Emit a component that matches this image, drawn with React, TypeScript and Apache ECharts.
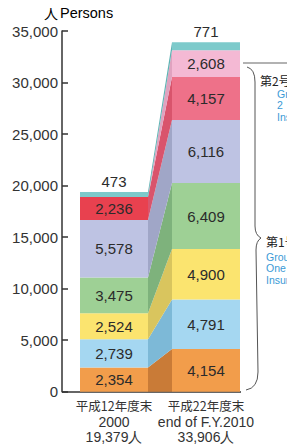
import React, { useEffect, useRef } from "react";
import * as echarts from "echarts";

const categories = ["平成12年度末\n2000\n19,379人", "平成22年度末\nend of F.Y.2010\n33,906人"];
const orangeValues = [2354, 4154];
const blueValues = [2739, 4791];
const yellowValues = [2524, 4900];
const greenValues = [3475, 6409];
const lavenderValues = [5578, 6116];
const redValues = [2236, 4157];
const pinkValues = [0, 2608];
const tealValues = [473, 771];
const yTicks = { min: 0, max: 35000, interval: 5000 };

const stackValues = [orangeValues, blueValues, yellowValues, greenValues, lavenderValues, redValues, pinkValues, tealValues];
const barColors = ["#F29D4B", "#A5D7F1", "#FBE46F", "#9ED095", "#BEC3E3", "#EE7189", "#F4B9D4", "#7DCACB"];
const red2000Color = "#E8414F";
const connectorColors = ["#C97B37", "#7DB9D7", "#D9C55E", "#7EB27C", "#A0A6C7", "#D9546C", "#E0A2BF", "#5FB3B4"];

const BAR_W = 68;
const FONT = "'Liberation Sans', Arial, sans-serif";
const CJK = "'Noto Sans CJK JP', 'Liberation Sans', sans-serif";

const bracePath =
  "M247 67 Q255 69 255 82 L255 226 Q255 235 261 238 Q256 241 256 250 L258 372 Q258 388 246 390";
echarts.graphic.registerShape("brace", echarts.graphic.extendPath(bracePath, {}) as any);

const fmt = (v: number) => v.toLocaleString("en-US");

export default function App() {
  const ref = useRef<HTMLDivElement>(null);
  useEffect(() => {
    if (!ref.current) return;
    const chart = echarts.init(ref.current, undefined, { renderer: "svg" });

    const barSeries = stackValues.map((vals, si) => ({
      type: "bar",
      stack: "total",
      barWidth: BAR_W,
      data: vals.map((v, ci) => ({
        value: v,
        itemStyle: { color: si === 5 && ci === 0 ? red2000Color : barColors[si] },
      })),
      label: {
        show: true,
        position: si === stackValues.length - 1 ? "top" : "inside",
        distance: 3,
        color: "#2b2b2b",
        fontSize: 15,
        fontFamily: FONT,
        formatter: (p: any) => (p.value ? fmt(p.value) : ""),
      },
      emphasis: { disabled: true },
      z: 3,
    }));

    const connector = {
      type: "custom",
      data: stackValues.map(() => [0, 0]),
      clip: false,
      z: 2,
      renderItem: (params: any, api: any) => {
        const s = params.dataIndex;
        let b0 = 0;
        let b1 = 0;
        for (let i = 0; i < s; i++) {
          b0 += stackValues[i][0];
          b1 += stackValues[i][1];
        }
        const t0 = b0 + stackValues[s][0];
        const t1 = b1 + stackValues[s][1];
        const half = BAR_W / 2;
        const a = api.coord([0, b0]);
        const b = api.coord([0, t0]);
        const c = api.coord([1, t1]);
        const d = api.coord([1, b1]);
        return {
          type: "polygon",
          shape: {
            points: [
              [a[0] + half, a[1]],
              [b[0] + half, b[1]],
              [c[0] - half, c[1]],
              [d[0] - half, d[1]],
            ],
          },
          style: { fill: connectorColors[s] },
        };
      },
    };

    chart.setOption({
      animation: false,
      grid: { left: 68, width: 184, top: 31, bottom: 52, containLabel: false },
      xAxis: {
        type: "category",
        data: categories,
        axisLine: { show: false },
        axisTick: { show: false },
        axisLabel: {
          color: "#333",
          margin: 5,
          interval: 0,
          formatter: (v: string) => {
            const lines = v.split("\n");
            return `{j|${lines[0]}}\n{e|${lines[1]}}\n{e|${lines[2]}}`;
          },
          rich: {
            j: { fontSize: 12.5, lineHeight: 17, color: "#333", fontFamily: CJK },
            e: { fontSize: 14, lineHeight: 15.5, color: "#333", fontFamily: FONT },
          },
        },
      },
      yAxis: {
        type: "value",
        min: yTicks.min,
        max: yTicks.max,
        interval: yTicks.interval,
        offset: 6,
        splitLine: { show: false },
        axisLine: { show: true, lineStyle: { color: "#333", width: 1.5 } },
        axisTick: { show: true, inside: true, length: 6, lineStyle: { color: "#333", width: 1.5 } },
        axisLabel: {
          color: "#333",
          fontSize: 15,
          fontFamily: FONT,
          margin: 4,
          formatter: (v: number) => fmt(v),
        },
      },
      series: [connector, ...barSeries],
      graphic: [
        {
          type: "text",
          left: 44,
          top: 5,
          style: {
            text: "{a|人}{b|Persons}",
            rich: {
              a: { fontSize: 14, color: "#222", fontFamily: CJK },
              b: { fontSize: 14.5, color: "#3A9AD6", fontFamily: FONT, padding: [0, 0, 0, 2] },
            },
          },
        },
        {
          type: "line",
          shape: { x1: 62, y1: 392, x2: 241, y2: 392 },
          style: { stroke: "#333", lineWidth: 1.5 },
        },
        {
          type: "line",
          shape: { x1: 243, y1: 63, x2: 290, y2: 63 },
          style: { stroke: "#999", lineWidth: 1.5 },
        },
        {
          type: "brace",
          x: 0,
          y: 0,
          style: { stroke: "#555", fill: null, lineWidth: 1 },
        },
        {
          type: "text",
          x: 260,
          y: 80,
          style: {
            text: "第2号被保険者",
            fontSize: 12,
            fill: "#222",
            verticalAlign: "middle",
            fontFamily: CJK,
          },
        },
        {
          type: "text",
          x: 277,
          y: 88,
          style: {
            text: "Group\n2\nInsured",
            fontSize: 10.5,
            lineHeight: 11.5,
            fill: "#3A9AD6",
            fontFamily: FONT,
          },
        },
        {
          type: "text",
          x: 266,
          y: 241,
          style: {
            text: "第1号被保険者",
            fontSize: 12,
            fill: "#222",
            verticalAlign: "middle",
            fontFamily: CJK,
          },
        },
        {
          type: "text",
          x: 266,
          y: 251,
          style: {
            text: "Group\nOne\nInsured",
            fontSize: 10.5,
            lineHeight: 11.5,
            fill: "#3A9AD6",
            fontFamily: FONT,
          },
        },
      ],
    });
    return () => chart.dispose();
  }, []);
  return (
    <div
      ref={ref}
      style={{ position: "fixed", left: 0, top: 0, width: 287, height: 444, background: "#fff" }}
    />
  );
}
